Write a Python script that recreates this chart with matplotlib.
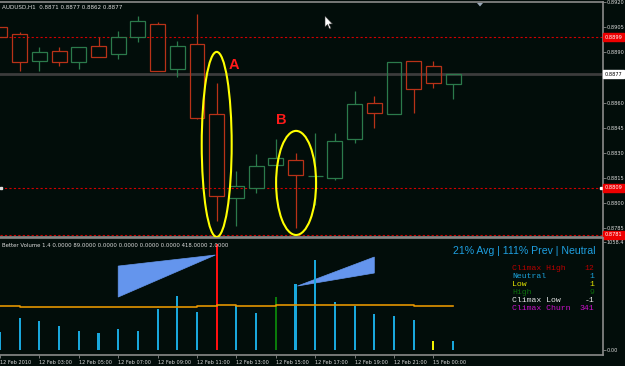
import numpy as np
import matplotlib
matplotlib.use("Agg")
import matplotlib.pyplot as plt
import matplotlib.transforms as mtransforms
from matplotlib.patches import Rectangle, Ellipse, Polygon

# ---------------------------------------------------------------------------
# Data (AUDUSD H1)
# ---------------------------------------------------------------------------
opens = [0.8905, 0.8901, 0.8885, 0.8891, 0.8884, 0.8894, 0.8889, 0.8899,
         0.8907, 0.8880, 0.8895, 0.8853, 0.8803, 0.8809, 0.8823, 0.8826,
         0.8816, 0.8815, 0.8838, 0.8860, 0.8853, 0.8885, 0.8882, 0.8871]
highs = [0.8905, 0.8902, 0.8893, 0.8893, 0.8893, 0.8899, 0.8903, 0.8912,
         0.8908, 0.8897, 0.8913, 0.8872, 0.8819, 0.8829, 0.8838, 0.8830,
         0.8842, 0.8842, 0.8867, 0.8864, 0.8884, 0.8885, 0.8885, 0.8877]
lows = [0.8899, 0.8879, 0.8879, 0.8882, 0.8880, 0.8887, 0.8886, 0.8896,
        0.8879, 0.8875, 0.8850, 0.8789, 0.8786, 0.8806, 0.8823, 0.8785,
        0.8799, 0.8814, 0.8836, 0.8845, 0.8853, 0.8854, 0.8869, 0.8862]
closes = [0.8899, 0.8884, 0.8890, 0.8884, 0.8893, 0.8887, 0.8899, 0.8909,
          0.8879, 0.8894, 0.8851, 0.8804, 0.8810, 0.8822, 0.8827, 0.8817,
          0.8816, 0.8837, 0.8859, 0.8854, 0.8884, 0.8868, 0.8872, 0.8877]

volumes = [173, 311, 281, 232, 183, 163, 202, 183, 400, 528, 370, 1042,
           429, 360, 518, 647, 884, 469, 429, 350, 331, 291, 84, 84]
vol_kind = ["n", "n", "n", "n", "n", "n", "n", "n", "n", "n", "n", "ch",
            "n", "n", "h", "n", "n", "n", "n", "n", "n", "n", "l", "n"]
vol_avg = [432, 423, 423, 423, 423, 423, 423, 423, 423, 423, 432, 439,
           432, 432, 436, 436, 442, 442, 442, 436, 436, 429, 429, 429]

# volume wedges drawn by the indicator (bar index, volume)
wedge1_x = [6.0, 6.0, 10.93]
wedge1_v = [824, 518, 933]
wedge2_x = [15.1, 19.0, 19.0]
wedge2_v = [627, 913, 755]

time_ticks = [0, 2, 4, 6, 8, 10, 12, 14, 16, 18, 20, 22]
time_labels = ["12 Feb 2010", "12 Feb 03:00", "12 Feb 05:00", "12 Feb 07:00",
               "12 Feb 09:00", "12 Feb 11:00", "12 Feb 13:00", "12 Feb 15:00",
               "12 Feb 17:00", "12 Feb 19:00", "12 Feb 21:00", "15 Feb 00:00"]

price_ticks = [0.8785, 0.8800, 0.8815, 0.8830, 0.8845, 0.8860, 0.8875,
               0.8890, 0.8905, 0.8920]
red_levels = [0.8899, 0.8809, 0.8781]
bid = 0.8877

legend_names = ["Climax High", "Neutral", "Low", "High", "Climax Low", "Climax Churn"]
legend_counts = ["12", "1", "1", "9", "-1", "341"]

BG = "#020d0a"
RED_C = "#b83218"
GREEN_C = "#2b7a4b"
VOL_COLORS = {"n": "#19a7dc", "ch": "#ff1010", "h": "#0a7a0a", "l": "#f2f200"}
LEGEND_COLORS = ["#b80000", "#1aa0d8", "#e6e600", "#0c6e0c", "#e8e8e8", "#cc10cc"]
GRID_GREY = "#8a8a8a"
TXT = "#dcdcdc"
SMALL = 3.6

W, H = 625, 366
fig = plt.figure(figsize=(W / 100, H / 100), dpi=100, facecolor=BG)

def px_axes(x0, y0, x1, y1):
    return fig.add_axes([x0 / W, 1 - y1 / H, (x1 - x0) / W, (y1 - y0) / H])

def px_poly(pts, **kw):
    # decoration placed in screen pixels (top-left origin)
    fig.patches.append(Polygon([(x / W, 1 - y / H) for x, y in pts], closed=True,
                               transform=fig.transFigure, **kw))

ax = px_axes(0, 2, 603, 237)
axv = px_axes(0, 238, 603, 355)

n = len(opens)
idx = np.arange(n)
XMAX = 603 / 19.7

for a in (ax, axv):
    a.set_facecolor(BG)
    a.set_xlim(0, XMAX)
    a.spines["left"].set_visible(False)
    for s in ("top", "right", "bottom"):
        a.spines[s].set_color(GRID_GREY)
        a.spines[s].set_linewidth(1.2)
    a.yaxis.tick_right()
    a.tick_params(axis="y", colors=GRID_GREY, labelcolor=TXT, labelsize=SMALL,
                  length=2, width=0.6, pad=0.8)

# ---- Price panel ----
ax.set_ylim(0.87797, 0.89201)
ax.set_yticks(price_ticks)
ax.set_yticklabels([f"{p:.4f}" for p in price_ticks])
ax.set_xticks([])

ax.axhline(bid, color="#3c3c3c", lw=2, zorder=1)
for lv in red_levels:
    ax.axhline(lv, color="#d00000", lw=0.8, ls=(0, (2, 2)), zorder=1)

body_w = 0.76
for i in range(n):
    o, h, l, c = opens[i], highs[i], lows[i], closes[i]
    col = GREEN_C if c >= o else RED_C
    top, bot = max(o, c), min(o, c)
    ax.vlines(i, top, h, color=col, lw=0.9, zorder=2)
    ax.vlines(i, l, bot, color=col, lw=0.9, zorder=2)
    if top - bot < 1e-7:
        ax.hlines(o, i - body_w / 2, i + body_w / 2, color=col, lw=0.9, zorder=2)
    else:
        ax.add_patch(Rectangle((i - body_w / 2, bot), body_w, top - bot,
                               fill=False, edgecolor=col, lw=0.9, zorder=2))

# highlighted ellipses A and B
ax.add_patch(Ellipse((11.0, 0.88350), 1.52, 0.01106, fill=False,
                     edgecolor="#ffff00", lw=1.5, zorder=3, clip_on=False))
ax.add_patch(Ellipse((15.03, 0.88120), 2.03, 0.00622, fill=False,
                     edgecolor="#ffff00", lw=1.5, zorder=3))
ax.text(11.88, 0.88825, "A", color="#ff1a1a", fontsize=10.5, fontweight="bold",
        family="Liberation Sans", ha="center", va="center")
ax.text(14.26, 0.88496, "B", color="#ff1a1a", fontsize=10.5, fontweight="bold",
        family="Liberation Sans", ha="center", va="center")

ax.text(0.004, 0.979, "AUDUSD,H1  0.8871 0.8877 0.8862 0.8877", transform=ax.transAxes,
        color=TXT, fontsize=4.1, va="center", ha="left")

# price boxes on the right axis
trans = mtransforms.blended_transform_factory(ax.transAxes, ax.transData)
for lv in red_levels:
    ax.text(1.003, lv, f"{lv:.4f}", transform=trans, color="white", fontsize=SMALL,
            va="center", ha="left", clip_on=False, zorder=5,
            bbox=dict(boxstyle="square,pad=0.3", fc="#ee0000", ec="#ee0000"))
ax.text(1.003, bid, f"{bid:.4f}", transform=trans, color="black", fontsize=SMALL,
        va="center", ha="left", clip_on=False, zorder=5,
        bbox=dict(boxstyle="square,pad=0.3", fc="white", ec="white"))
ax.plot([XMAX - 0.12], [red_levels[1]], marker="s", ms=1.8, color="white",
        clip_on=False, zorder=4)
ax.plot([0.05], [red_levels[1]], marker="s", ms=1.8, color="#e0e0e0",
        clip_on=False, zorder=4)

# ---- Volume panel ----
axv.set_ylim(-54, 1101)
axv.set_yticks([0, 1058.4])
axv.set_yticklabels(["0.00", "1058.4"])

axv.add_patch(Polygon(list(zip(wedge1_x, wedge1_v)), closed=True,
                      fc="#6495ed", ec="#6495ed", lw=0.5, zorder=1))
axv.add_patch(Polygon(list(zip(wedge2_x, wedge2_v)), closed=True,
                      fc="#6495ed", ec="#6495ed", lw=0.5, zorder=1))

bar_cols = [VOL_COLORS[k] for k in vol_kind]
axv.bar(idx, volumes, width=0.11, color=bar_cols, zorder=2)
axv.step(idx, vol_avg, where="post", color="#e39400", lw=1.2, zorder=3)

axv.set_xticks(time_ticks)
axv.set_xticklabels(time_labels)
axv.tick_params(axis="x", colors=GRID_GREY, labelcolor=TXT, labelsize=SMALL,
                length=2, width=0.6, pad=1.5)
for lbl in axv.get_xticklabels():
    lbl.set_ha("left")

axv.text(0.004, 0.94, "Better Volume 1.4 0.0000 89.0000 0.0000 0.0000 0.0000 0.0000 418.0000 2.0000",
         transform=axv.transAxes, color=TXT, fontsize=3.9, va="center", ha="left")
axv.text(0.987, 0.89, "21% Avg | 111% Prev | Neutral", transform=axv.transAxes,
         color="#1e9fe0", fontsize=7.6, family="Liberation Sans", va="center", ha="right")

for k, (name, cnt) in enumerate(zip(legend_names, legend_counts)):
    yy = 0.741 - k * 0.0684
    axv.text(0.849, yy, name, transform=axv.transAxes, color=LEGEND_COLORS[k],
             fontsize=5.9, family="Liberation Mono", va="center", ha="left")
    axv.text(0.985, yy, cnt, transform=axv.transAxes, color=LEGEND_COLORS[k],
             fontsize=5.9, family="Liberation Mono", va="center", ha="right")

# screen decorations: mouse cursor and the chart-shift marker at the top
px_poly([(325, 16), (325, 27), (327.5, 24.5), (329.5, 29), (331, 28.3),
         (329, 24), (332.5, 24)], fc="white", ec="#303030", lw=0.4, zorder=10)
px_poly([(477, 3), (483, 3), (480, 6.5)], fc="#9aa8b8", ec="none", zorder=10)

fig.savefig("out.png", dpi=100, facecolor=BG)
